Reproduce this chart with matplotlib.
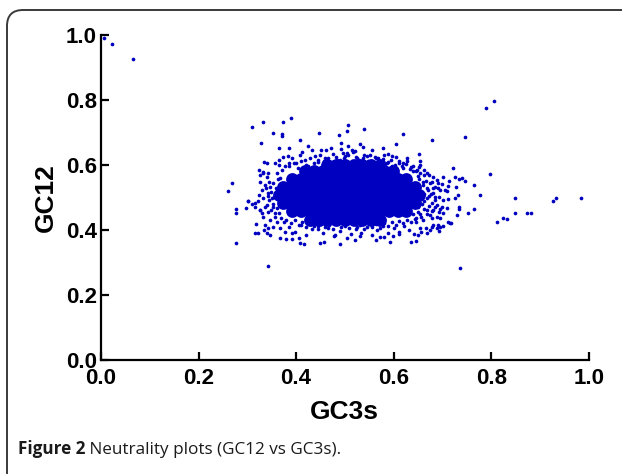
import matplotlib
matplotlib.use("Agg")
import matplotlib.pyplot as plt
from matplotlib.patches import FancyBboxPatch

# ---- data ----
# scattered / fringe genes
gc3s = [
    0.006, 0.023, 0.066,
    0.806, 0.790, 0.747, 0.679, 0.798, 0.722, 0.765, 0.778, 0.848, 0.927, 0.933, 0.984,
    0.849, 0.874, 0.882, 0.824, 0.832, 0.811, 0.765, 0.753, 0.736, 0.729, 0.746, 0.740,
    0.734, 0.726,
    0.714, 0.711, 0.728, 0.731, 0.725, 0.734, 0.733, 0.715, 0.718, 0.694, 0.702, 0.690,
    0.702, 0.688, 0.678, 0.685, 0.695, 0.705, 0.709, 0.681, 0.692, 0.702, 0.712, 0.688,
    0.699, 0.709, 0.681, 0.692, 0.702, 0.678, 0.688, 0.695, 0.681,
    0.507, 0.504, 0.540, 0.619, 0.492, 0.507, 0.531, 0.537, 0.579, 0.605, 0.496, 0.505,
    0.515, 0.521, 0.652, 0.655, 0.589, 0.596, 0.627, 0.620, 0.651, 0.567, 0.558, 0.551,
    0.668, 0.681, 0.446, 0.487,
    0.390, 0.332, 0.373, 0.309, 0.352, 0.372, 0.372, 0.328, 0.409, 0.364, 0.386, 0.424,
    0.462, 0.472, 0.374, 0.383, 0.407, 0.432, 0.335, 0.341, 0.357, 0.364, 0.385, 0.332,
    0.325, 0.343,
    0.269, 0.261, 0.301, 0.276, 0.276, 0.297, 0.277, 0.310, 0.301,
    0.321, 0.316, 0.326, 0.330, 0.318, 0.316, 0.321, 0.335, 0.340, 0.347, 0.366, 0.379,
    0.392, 0.405, 0.409, 0.417, 0.450, 0.457, 0.489, 0.480, 0.342,
    0.504, 0.520, 0.532, 0.564, 0.572, 0.580, 0.593, 0.598, 0.612, 0.635, 0.646, 0.649,
    0.654, 0.666, 0.679, 0.695, 0.712, 0.668, 0.657, 0.688, 0.675,
    0.323, 0.333, 0.340, 0.326, 0.336, 0.347, 0.330, 0.343, 0.323, 0.333, 0.350, 0.316,
    0.340, 0.353, 0.326, 0.343, 0.357, 0.333, 0.347, 0.360, 0.336, 0.353, 0.367, 0.377,
    0.391, 0.343,
    0.365, 0.378, 0.392, 0.400, 0.412, 0.418, 0.425, 0.438, 0.445, 0.452, 0.460, 0.468,
    0.476, 0.484, 0.492, 0.500, 0.508, 0.516, 0.524, 0.532, 0.540, 0.548, 0.556, 0.564,
    0.572, 0.580, 0.588, 0.596, 0.604, 0.612, 0.620, 0.628, 0.636, 0.645, 0.655, 0.662,
    0.672,
    0.650, 0.660, 0.668, 0.655, 0.672, 0.662, 0.678, 0.650, 0.668, 0.655, 0.675, 0.660,
    0.645, 0.690, 0.685, 0.695, 0.700, 0.640,
    0.385, 0.398, 0.410, 0.420, 0.432, 0.444, 0.455, 0.466, 0.478, 0.490, 0.500, 0.512,
    0.522, 0.534, 0.546, 0.556, 0.566, 0.578, 0.588, 0.600, 0.612, 0.622, 0.632, 0.642,
    # dense edge of the cloud
    0.352, 0.358, 0.348, 0.355, 0.345, 0.352, 0.360, 0.348, 0.365, 0.356, 0.368, 0.360,
    0.372, 0.338, 0.342, 0.336, 0.370, 0.375, 0.362, 0.344,
    0.385, 0.395, 0.403, 0.410, 0.420, 0.428, 0.436, 0.444, 0.450, 0.458, 0.466, 0.474,
    0.482, 0.490, 0.498, 0.506, 0.514, 0.522, 0.530, 0.538, 0.546, 0.554, 0.562, 0.570,
    0.578, 0.586, 0.594, 0.602, 0.610, 0.618, 0.626, 0.634, 0.640,
    0.648, 0.655, 0.662, 0.652, 0.666, 0.674, 0.660, 0.670, 0.680, 0.663, 0.676, 0.668,
    0.684, 0.658, 0.672, 0.662, 0.678, 0.650, 0.668, 0.657, 0.645, 0.685, 0.690, 0.640,
    0.380, 0.390, 0.398, 0.405, 0.412, 0.420, 0.428, 0.436, 0.444, 0.452, 0.460, 0.468,
    0.476, 0.484, 0.492, 0.500, 0.508, 0.516, 0.524, 0.532, 0.540, 0.548, 0.556, 0.564,
    0.572, 0.580, 0.588, 0.596, 0.604, 0.612, 0.620, 0.628, 0.636, 0.644,
]
gc12 = [
    0.990, 0.973, 0.925,
    0.797, 0.776, 0.686, 0.677, 0.571, 0.590, 0.539, 0.508, 0.499, 0.488, 0.498, 0.498,
    0.452, 0.453, 0.452, 0.437, 0.433, 0.426, 0.466, 0.451, 0.282, 0.445, 0.550, 0.560,
    0.557, 0.562,
    0.550, 0.536, 0.532, 0.507, 0.497, 0.472, 0.465, 0.422, 0.420, 0.397, 0.413, 0.414,
    0.562, 0.554, 0.549, 0.533, 0.523, 0.523, 0.520, 0.513, 0.502, 0.492, 0.494, 0.477,
    0.472, 0.467, 0.462, 0.456, 0.451, 0.436, 0.441, 0.436, 0.415,
    0.724, 0.704, 0.711, 0.695, 0.669, 0.658, 0.664, 0.656, 0.653, 0.666, 0.638, 0.638,
    0.646, 0.644, 0.634, 0.613, 0.635, 0.628, 0.620, 0.607, 0.595, 0.620, 0.607, 0.631,
    0.574, 0.564, 0.697, 0.693,
    0.746, 0.733, 0.732, 0.718, 0.697, 0.694, 0.688, 0.667, 0.677, 0.653, 0.652, 0.658,
    0.646, 0.653, 0.624, 0.628, 0.630, 0.646, 0.610, 0.605, 0.607, 0.600, 0.607, 0.579,
    0.569, 0.574,
    0.546, 0.520, 0.489, 0.465, 0.451, 0.468, 0.359, 0.480, 0.490,
    0.490, 0.472, 0.462, 0.451, 0.418, 0.390, 0.390, 0.400, 0.390, 0.385, 0.374, 0.371,
    0.371, 0.374, 0.359, 0.357, 0.361, 0.364, 0.356, 0.385, 0.290,
    0.376, 0.370, 0.382, 0.370, 0.379, 0.379, 0.364, 0.383, 0.387, 0.364, 0.367, 0.385,
    0.405, 0.407, 0.410, 0.410, 0.426, 0.390, 0.395, 0.405, 0.400,
    0.585, 0.574, 0.564, 0.549, 0.538, 0.533, 0.523, 0.513, 0.508, 0.497, 0.497, 0.482,
    0.477, 0.472, 0.462, 0.456, 0.451, 0.441, 0.431, 0.426, 0.415, 0.410, 0.405, 0.395,
    0.390, 0.405,
    0.615, 0.598, 0.622, 0.605, 0.640, 0.615, 0.598, 0.628, 0.610, 0.645, 0.622, 0.600,
    0.635, 0.615, 0.648, 0.628, 0.605, 0.640, 0.620, 0.600, 0.632, 0.612, 0.645, 0.622,
    0.602, 0.630, 0.610, 0.596, 0.625, 0.605, 0.590, 0.612, 0.595, 0.580, 0.600, 0.585,
    0.570,
    0.565, 0.548, 0.530, 0.515, 0.505, 0.490, 0.482, 0.470, 0.462, 0.450, 0.445, 0.430,
    0.425, 0.530, 0.500, 0.465, 0.540, 0.580,
    0.410, 0.395, 0.415, 0.385, 0.402, 0.412, 0.390, 0.405, 0.380, 0.398, 0.412, 0.388,
    0.402, 0.392, 0.410, 0.385, 0.400, 0.412, 0.392, 0.405, 0.395, 0.412, 0.400, 0.388,
    # dense edge of the cloud
    0.545, 0.528, 0.518, 0.502, 0.492, 0.480, 0.468, 0.462, 0.452, 0.440, 0.560, 0.575,
    0.585, 0.530, 0.505, 0.470, 0.438, 0.425, 0.558, 0.548,
    0.596, 0.606, 0.592, 0.612, 0.600, 0.620, 0.605, 0.616, 0.630, 0.612, 0.622, 0.610,
    0.625, 0.615, 0.620, 0.630, 0.612, 0.625, 0.615, 0.620, 0.628, 0.612, 0.625, 0.610,
    0.618, 0.605, 0.615, 0.600, 0.612, 0.598, 0.603, 0.588, 0.598,
    0.585, 0.575, 0.568, 0.558, 0.552, 0.545, 0.538, 0.522, 0.528, 0.512, 0.510, 0.498,
    0.492, 0.480, 0.475, 0.465, 0.458, 0.455, 0.448, 0.440, 0.438, 0.470, 0.545, 0.448,
    0.432, 0.420, 0.432, 0.415, 0.425, 0.408, 0.420, 0.412, 0.402, 0.418, 0.408, 0.415,
    0.402, 0.420, 0.410, 0.418, 0.405, 0.420, 0.410, 0.415, 0.402, 0.420, 0.410, 0.418,
    0.405, 0.422, 0.412, 0.425, 0.415, 0.428, 0.420, 0.432, 0.425, 0.435,
]

# dense core of the cloud (solid blue area)
gc3s_core = [
    0.428, 0.446, 0.464, 0.482, 0.500, 0.518, 0.536, 0.554, 0.572,
    0.392, 0.410, 0.428, 0.446, 0.464, 0.482, 0.500, 0.518, 0.536, 0.554, 0.572, 0.590, 0.608, 0.626,
    0.374, 0.392, 0.410, 0.428, 0.446, 0.464, 0.482, 0.500, 0.518, 0.536, 0.554, 0.572, 0.590, 0.608, 0.626, 0.644,
    0.365, 0.383, 0.401, 0.419, 0.437, 0.455, 0.473, 0.491, 0.509, 0.527, 0.545, 0.563, 0.581, 0.599, 0.617, 0.635, 0.653,
    0.374, 0.392, 0.410, 0.428, 0.446, 0.464, 0.482, 0.500, 0.518, 0.536, 0.554, 0.572, 0.590, 0.608, 0.626, 0.644,
    0.392, 0.410, 0.428, 0.446, 0.464, 0.482, 0.500, 0.518, 0.536, 0.554, 0.572, 0.590, 0.608, 0.626,
    0.419, 0.437, 0.455, 0.473, 0.491, 0.509, 0.527, 0.545, 0.563, 0.581, 0.599,
    0.464, 0.482, 0.500, 0.518, 0.536, 0.554, 0.572,
]
gc12_core = (
    [0.432] * 9 + [0.457] * 14 + [0.482] * 16 + [0.507] * 17 +
    [0.532] * 16 + [0.557] * 14 + [0.582] * 11 + [0.600] * 7
)

xticks = [0.0, 0.2, 0.4, 0.6, 0.8, 1.0]
yticks = [0.0, 0.2, 0.4, 0.6, 0.8, 1.0]
tick_labels = ["0.0", "0.2", "0.4", "0.6", "0.8", "1.0"]

dot_color = "#0000C0"

fig = plt.figure(figsize=(6.22, 4.74), dpi=100)
ax = fig.add_axes([0.1624, 0.2405, 0.9465 - 0.1624, 0.9262 - 0.2405])

ax.scatter(gc3s_core, gc12_core, s=85, c=dot_color, linewidths=0, zorder=2)
ax.scatter(gc3s, gc12, s=7, c=dot_color, linewidths=0, zorder=3, clip_on=False)

ax.set_xlim(0, 1)
ax.set_ylim(0, 1)
ax.set_xticks(xticks)
ax.set_yticks(yticks)
tick_font = dict(family="Liberation Sans", weight="bold", size=16)
ax.set_xticklabels(tick_labels, fontdict=tick_font)
ax.set_yticklabels(tick_labels, fontdict=tick_font)
ax.tick_params(axis="both", direction="in", length=6, width=1.6, colors="black")
ax.tick_params(axis="x", pad=6)
ax.tick_params(axis="y", pad=3)
for side in ("top", "right"):
    ax.spines[side].set_visible(False)
for side in ("left", "bottom"):
    ax.spines[side].set_linewidth(1.6)

ax.set_xlabel("GC3s", family="Liberation Sans", weight="bold", size=19, labelpad=8)
ax.set_ylabel("GC12", family="Liberation Sans", weight="bold", size=19, labelpad=6)

# rounded frame around the figure panel
frame = FancyBboxPatch((0.07, -0.5), 6.6, 5.14,
                       boxstyle="round,pad=0,rounding_size=0.16",
                       transform=fig.dpi_scale_trans, fill=False,
                       linewidth=1.4, edgecolor="#3a3a3a")
fig.patches.append(frame)

t1 = fig.text(18 / 622, 1 - 458 / 474, "Figure 2", family="Open Sans",
              weight="bold", size=12.3, color="#1a1a1a", va="bottom", ha="left")
ax.annotate(" Neutrality plots (GC12 vs GC3s).", xy=(1, 0), xycoords=t1,
            va="bottom", ha="left", family="Open Sans", size=12.3,
            color="#1a1a1a", annotation_clip=False)

fig.savefig("out.png", dpi=100)
